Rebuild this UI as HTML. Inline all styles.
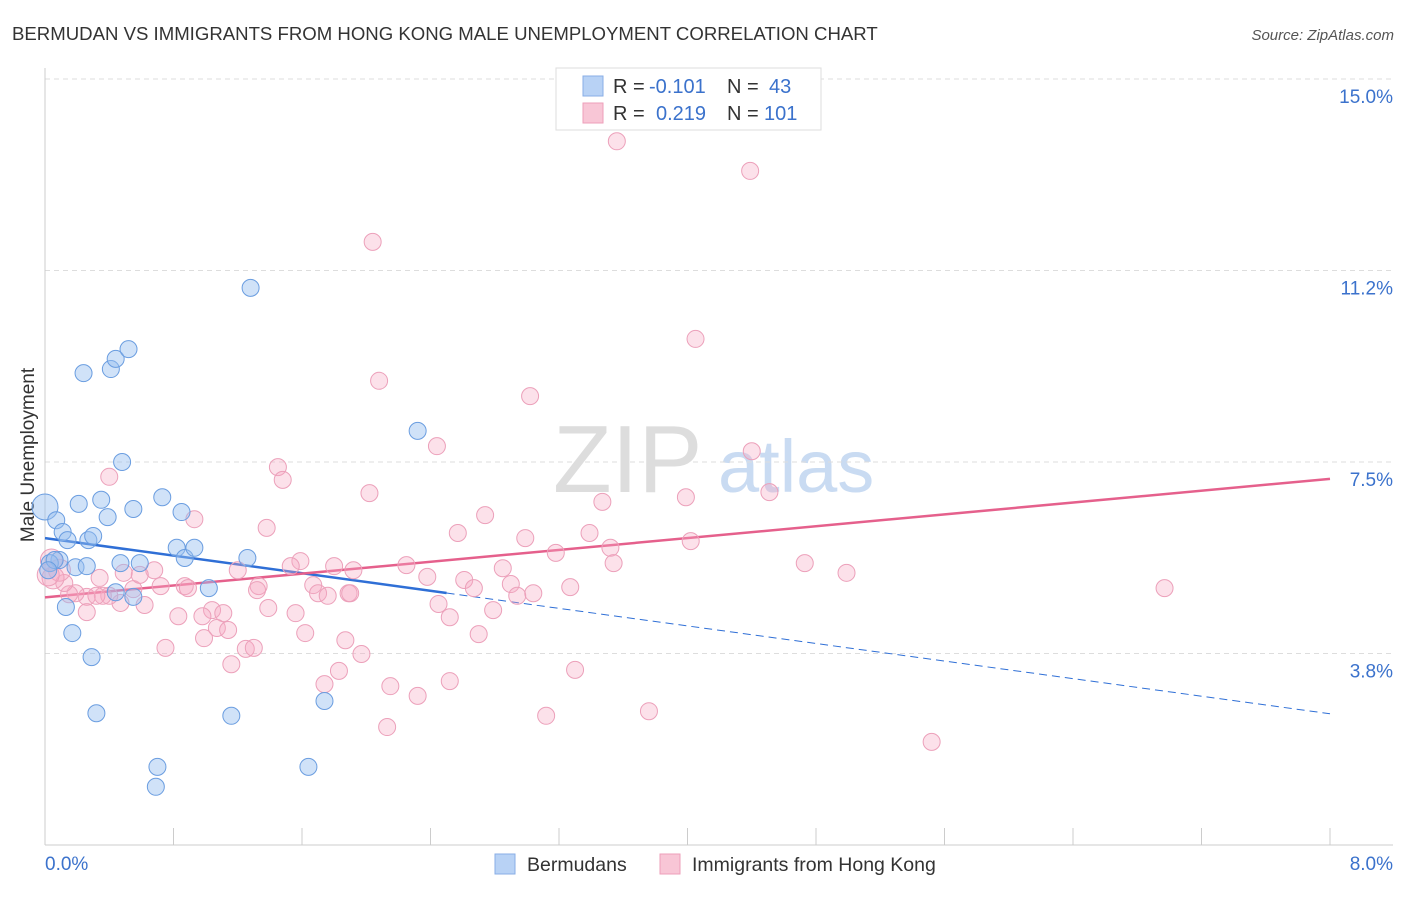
<!DOCTYPE html>
<html><head><meta charset="utf-8"><style>
body{margin:0;background:#fff;font-family:"Liberation Sans",sans-serif;}
svg text{font-family:"Liberation Sans",sans-serif;}
</style></head><body>
<svg id="chart" width="1406" height="892">
<text x="12" y="40" font-size="18.6" fill="#333">BERMUDAN VS IMMIGRANTS FROM HONG KONG MALE UNEMPLOYMENT CORRELATION CHART</text>
<text x="1394" y="40" font-size="15" fill="#555" font-style="italic" text-anchor="end">Source: ZipAtlas.com</text>
<text x="0" y="0" font-size="19" fill="#333" transform="translate(34,455) rotate(-90)" text-anchor="middle">Male Unemployment</text>
<g><text x="553" y="492" font-size="96" fill="#ddd" font-family="Liberation Serif,serif">ZIP</text><text x="718" y="492" font-size="74" fill="#c9dbf2">atlas</text></g>
<g id="grid"></g><g id="axes"></g><g id="trends"></g><g id="pts"></g>
<g>
<rect x="556" y="68" width="265" height="62" fill="#fff" stroke="#ddd"/>
<rect x="583" y="76" width="20" height="20" fill="#b8d2f5" stroke="#88aee6"/>
<rect x="583" y="103" width="20" height="20" fill="#f8c6d6" stroke="#ee9fba"/>
<text x="613" y="93" font-size="20" fill="#333">R = </text><text x="649" y="93" font-size="20" fill="#3b72cc">-0.101</text>
<text x="727" y="93" font-size="20" fill="#333">N = </text><text x="769" y="93" font-size="20" fill="#3b72cc">43</text>
<text x="613" y="120" font-size="20" fill="#333">R = </text><text x="656" y="120" font-size="20" fill="#3b72cc">0.219</text>
<text x="727" y="120" font-size="20" fill="#333">N = </text><text x="764" y="120" font-size="20" fill="#3b72cc">101</text>
</g>
<g>
<rect x="495" y="854" width="20" height="20" fill="#b8d2f5" stroke="#88aee6"/>
<text x="527" y="871" font-size="19.5" fill="#333">Bermudans</text>
<rect x="660" y="854" width="20" height="20" fill="#f8c6d6" stroke="#ee9fba"/>
<text x="692" y="871" font-size="19.5" fill="#333">Immigrants from Hong Kong</text>
</g>
</svg>
<script>
const yTicks=[3.75,7.5,11.25,15];
const yTickLabels=["3.8%","7.5%","11.2%","15.0%"];
const xTickLabels=["0.0%","8.0%"];
const blueX=[0.00,0.07,0.11,0.14,0.27,0.30,0.21,0.35,0.39,0.55,0.73,0.85,0.48,0.41,0.44,0.52,0.24,1.28,2.32,0.09,0.19,0.26,0.47,0.59,0.82,0.87,0.93,1.26,0.03,0.13,0.17,0.29,0.44,0.55,1.02,0.32,1.16,1.74,0.70,0.69,1.64,0.06,0.02];
const blueY=[6.62,6.36,6.13,5.97,5.97,6.05,6.68,6.76,6.42,6.58,6.81,6.52,7.50,9.32,9.52,9.71,9.24,10.91,8.11,5.58,5.44,5.46,5.52,5.52,5.82,5.62,5.82,5.62,5.52,4.66,4.15,3.68,4.95,4.86,5.03,2.58,2.53,2.82,1.53,1.14,1.53,5.58,5.38];
const pinkX=[3.56,4.39,2.04,4.05,2.08,3.02,2.44,4.40,1.45,1.48,0.40,2.02,3.99,4.51,3.47,2.74,0.93,1.38,2.57,3.39,2.99,4.02,3.52,3.18,1.59,1.80,1.53,2.25,2.85,3.54,4.73,4.99,6.97,1.20,1.92,2.38,2.61,2.90,2.67,3.27,1.67,1.89,1.70,1.76,1.90,2.94,3.04,2.45,2.79,2.52,1.39,1.56,1.04,0.98,0.83,0.87,0.89,0.72,0.68,0.55,0.59,0.49,0.47,0.62,0.34,0.40,0.26,0.36,0.19,0.15,0.12,0.09,0.05,0.02,0.04,0.32,0.26,1.11,1.07,0.99,1.14,1.62,1.87,2.70,0.75,1.25,1.30,1.97,1.16,1.83,3.30,1.74,2.15,2.52,2.32,3.12,3.76,2.13,5.52,1.33,1.32];
const pinkY=[13.78,13.20,11.81,9.91,9.09,8.79,7.81,7.71,7.40,7.15,7.21,6.89,6.81,6.91,6.72,6.46,6.38,6.21,6.11,6.11,6.01,5.95,5.82,5.72,5.56,5.46,5.46,5.48,5.42,5.52,5.52,5.33,5.03,5.38,5.38,5.25,5.19,5.11,5.03,5.05,5.09,4.93,4.93,4.88,4.93,4.88,4.93,4.72,4.60,4.46,4.64,4.54,4.60,4.48,4.48,5.07,5.03,5.07,5.38,5.01,5.29,5.33,4.74,4.70,5.23,4.88,4.86,4.88,4.93,4.91,5.13,5.38,5.23,5.29,5.58,4.88,4.56,4.54,4.25,4.05,4.21,4.15,4.01,4.13,3.86,3.84,3.86,3.74,3.54,3.41,3.43,3.15,3.11,3.21,2.92,2.53,2.62,2.31,2.02,5.07,4.99];
const blueTrend=[6.01,-0.43];   // intercept, slope
const pinkTrend=[4.85,0.29];
const X0=45,X1=1330,Y0=845,YT=79,XMAX=8,YMAX=15;
const sx=v=>X0+(v/XMAX)*(X1-X0);
const sy=v=>Y0-(v/YMAX)*(Y0-YT);
const NS="http://www.w3.org/2000/svg";
function mk(tag,attrs,parent){const e=document.createElementNS(NS,tag);for(const k in attrs)e.setAttribute(k,attrs[k]);document.getElementById(parent).appendChild(e);return e;}
yTicks.forEach((t,i)=>{
 const l=mk("line",{x1:X0,x2:1393,y1:sy(t),y2:sy(t),stroke:"#ddd","stroke-dasharray":"5,4"},"grid");
 
 
 const tx=mk("text",{x:1393,y:sy(t)+24,"font-size":19,fill:"#3b72cc","text-anchor":"end"},"axes");
 tx.textContent=yTickLabels[i];
 
 
});
let ax=mk("line",{x1:X0,x2:X0,y1:68,y2:Y0,stroke:"#ccc"},"axes");


let bx=mk("line",{x1:X0,x2:1393,y1:Y0,y2:Y0,stroke:"#ccc"},"axes");


for(let i=0;i<=10;i++){
 const v=i*0.8;
 const t=mk("line",{x1:sx(v),x2:sx(v),y1:Y0,y2:Y0-17,stroke:"#ccc"},"axes");
 
 
}
let xl0=mk("text",{x:45,y:870,"font-size":19,fill:"#3b72cc"},"axes");xl0.textContent=xTickLabels[0];


let xl1=mk("text",{x:1393,y:870,"font-size":19,fill:"#3b72cc","text-anchor":"end"},"axes");xl1.textContent=xTickLabels[1];


pinkX.forEach((x,i)=>{
 const c=mk("circle",{cx:sx(x),cy:sy(pinkY[i]),r:(x<0.1?11:8.5),fill:"rgba(245,170,195,0.35)",stroke:"#eca0ba","stroke-width":1},"pts");
 
 
});
blueX.forEach((x,i)=>{
 const c=mk("circle",{cx:sx(x),cy:sy(blueY[i]),r:(i==0?13:8.5),fill:"rgba(150,190,240,0.45)",stroke:"#6a9de0","stroke-width":1},"pts");
 
 
});
const f=(t,x)=>t[0]+t[1]*x;
let b1=mk("line",{x1:sx(0),y1:sy(f(blueTrend,0)),x2:sx(2.5),y2:sy(f(blueTrend,2.5)),stroke:"#2f6fd6","stroke-width":2.5},"trends");


let b2=mk("line",{x1:sx(2.5),y1:sy(f(blueTrend,2.5)),x2:sx(8),y2:sy(f(blueTrend,8)),stroke:"#2f6fd6","stroke-width":1,"stroke-dasharray":"8,5"},"trends");


let p1=mk("line",{x1:sx(0),y1:sy(f(pinkTrend,0)),x2:sx(8),y2:sy(f(pinkTrend,8)),stroke:"#e5608c","stroke-width":2.5},"trends");


</script>
</body></html>
